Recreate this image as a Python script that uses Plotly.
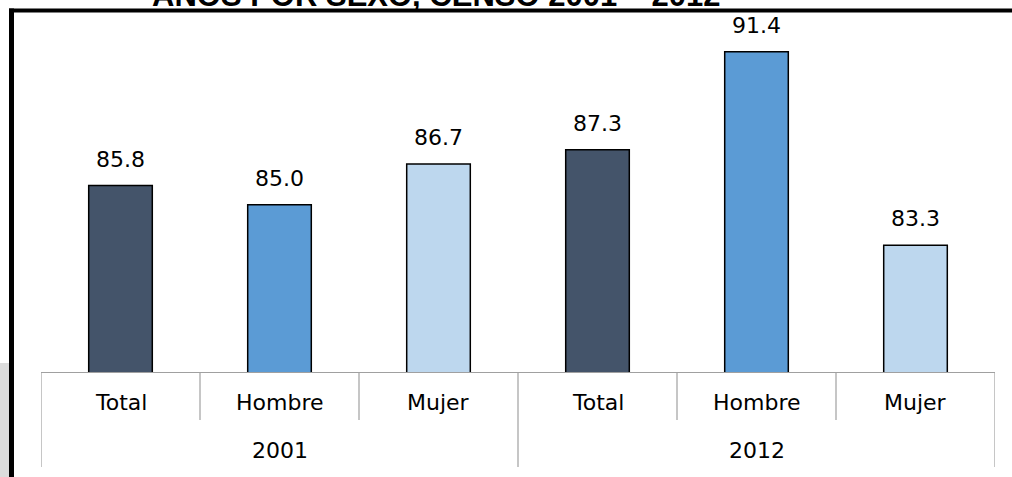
import plotly.graph_objects as go

# ---- data ----
years = ["2001", "2012"]
groups = ["Total", "Hombre", "Mujer"]
values_2001 = [85.8, 85.0, 86.7]
values_2012 = [87.3, 91.4, 83.3]
colors = ["#44546A", "#5B9BD5", "#BDD7EE"]
title_text = "AÑOS POR SEXO, CENSO 2001 – 2012"

values = values_2001 + values_2012
labels = groups + groups
xpos = list(range(len(values)))
bar_colors = colors + colors

W, H = 1012, 477
ML, MR, MT, MB = 41, 17, 30, 105
PW, PH = W - ML - MR, H - MT - MB
base_px = H - MB  # 372


def px_x(p):
    return (p - ML) / PW


def px_y(p):
    return (base_px - p) / PH


FONT = "DejaVu Sans, Arial, sans-serif"
TFONT = "Liberation Sans, Arial, sans-serif"

fig = go.Figure()
fig.add_trace(go.Bar(
    x=xpos, y=values, width=0.4,
    marker=dict(color=bar_colors, line=dict(color="#000000", width=1.5)),
    hoverinfo="skip", showlegend=False,
))

annotations = []
# value labels
for xi, v in zip(xpos, values):
    annotations.append(dict(x=xi, y=v, xref="x", yref="y", text=f"{v:.1f}",
                            showarrow=False, yanchor="bottom", yshift=12,
                            font=dict(family=FONT, size=22, color="#000000")))
# inner category labels
for xi, lab in zip(xpos, labels):
    annotations.append(dict(x=xi, y=px_y(403), xref="x", yref="paper", text=lab,
                            showarrow=False, yanchor="middle",
                            font=dict(family=FONT, size=22, color="#000000")))
# outer year labels
for gi, yr in enumerate(years):
    annotations.append(dict(x=gi * 3 + 1, y=px_y(450.5), xref="x", yref="paper", text=yr,
                            showarrow=False, yanchor="middle",
                            font=dict(family=FONT, size=22, color="#000000")))
# partially visible title
annotations.append(dict(x=px_x(436.5), y=px_y(8), xref="paper", yref="paper",
                        text=f"<b>{title_text}</b>", showarrow=False,
                        xanchor="center", yanchor="bottom", yshift=-7,
                        font=dict(family=TFONT, size=31, color="#000000")))

shapes = []
# category separators
for k in range(len(values) + 1):
    b = k - 0.5
    full = (k % 3 == 0)
    shapes.append(dict(type="line", xref="x", yref="paper", x0=b, x1=b,
                       y0=0, y1=px_y(467 if full else 420),
                       line=dict(color="#A0A0A0", width=1.2)))
# left shadow
shapes.append(dict(type="rect", xref="paper", yref="paper", layer="below",
                   x0=px_x(-2), x1=px_x(9), y0=px_y(363), y1=px_y(H + 5),
                   fillcolor="#DCDCDC", line=dict(width=0)))
# frame lines
shapes.append(dict(type="line", xref="paper", yref="paper",
                   x0=px_x(9), x1=px_x(W + 5), y0=px_y(10.5), y1=px_y(10.5),
                   line=dict(color="#000000", width=4)))
shapes.append(dict(type="line", xref="paper", yref="paper",
                   x0=px_x(11.5), x1=px_x(11.5), y0=px_y(8.5), y1=px_y(H + 5),
                   line=dict(color="#000000", width=5)))

fig.update_layout(
    width=W, height=H,
    margin=dict(l=ML, r=MR, t=MT, b=MB, pad=0),
    paper_bgcolor="#FFFFFF", plot_bgcolor="#FFFFFF",
    bargap=0.6,
    xaxis=dict(range=[-0.5, len(values) - 0.5], showticklabels=False, showgrid=False,
               zeroline=False, showline=True, linecolor="#A0A0A0", linewidth=1.2,
               ticks="", fixedrange=True),
    yaxis=dict(range=[78, 78 + PH / 23.9], visible=False, showgrid=False,
               zeroline=False, fixedrange=True),
    annotations=annotations,
    shapes=shapes,
)

fig.write_html(
    "out.html",
    config={"displayModeBar": False},
    post_script="document.body.style.margin='0';document.body.style.padding='0';",
)
